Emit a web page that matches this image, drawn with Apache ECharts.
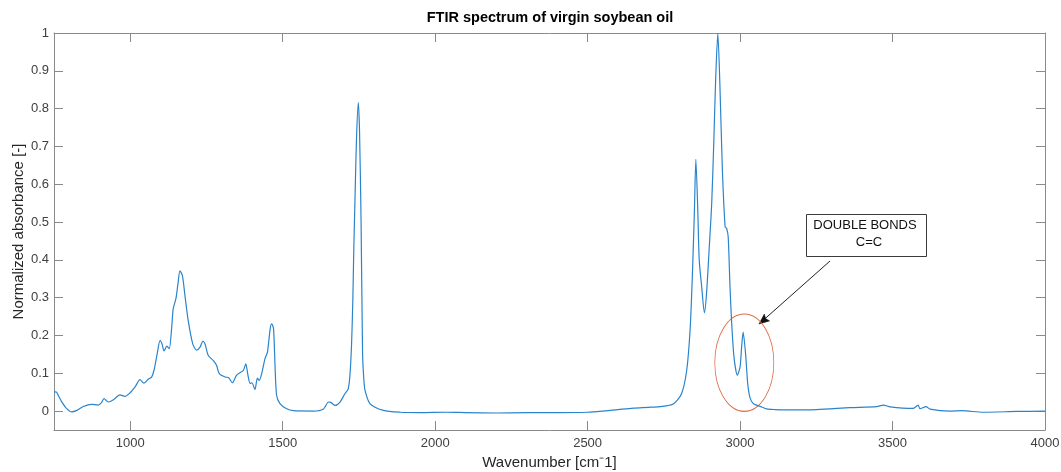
<!DOCTYPE html>
<html>
<head>
<meta charset="utf-8">
<script src="https://cdn.jsdelivr.net/npm/echarts@6/dist/echarts.min.js"></script>
<style>
html,body{margin:0;padding:0;background:#fff;}
#chart{width:1061px;height:472px;}
</style>
</head>
<body>
<div id="chart"></div>
<script>
var titleText = 'FTIR spectrum of virgin soybean oil';
var xAxisName = 'Wavenumber [cm\u207B1]';
var yAxisName = 'Normalized absorbance [-]';
var xTicks = [1000, 1500, 2000, 2500, 3000, 3500, 4000];
var yTicks = [0, 0.1, 0.2, 0.3, 0.4, 0.5, 0.6, 0.7, 0.8, 0.9, 1];
var annotationLines = ['DOUBLE BONDS', 'C=C'];

var wavenumber = [
 750,757,765,775,790,808,825,846,873,895,905,914,928,945,966,983,999,1016,1032,1045,
 1060,1070,1078,1088,1098,1104,1111,1120,1128,1136,1141,1150,1157,1163,1171,1180,1190,1205,1218,1229,
 1238,1245,1256,1272,1283,1292,1311,1322,1335,1349,1371,1379,1386,1393,1399,1409,1417,1423,1431,1442,
 1450,1459,1464,1470,1475,1480,1491,1513,1535,1600,1633,1650,1658,1672,1688,1704,1715,1721,1726,1730,
 1733,1737,1742,1748,1752,1757,1762,1766,1770,1786,1830,1885,1950,2038,2100,2200,2300,2400,2500,2550,
 2600,2650,2700,2737,2781,2808,2825,2836,2843,2850,2855,2861,2866,2874,2883,2890,2899,2907,2914,2920,
 2927,2934,2942,2951,2956,2961,2967,2972,2980,2991,3000,3005,3010,3018,3025,3032,3043,3071,3087,3115,
 3142,3251,3360,3448,3470,3492,3568,3584,3590,3610,3623,3688,3727,3798,3907,4000
];
var absorbance = [
 0.050,0.051,0.040,0.025,0.008,-0.002,0.002,0.012,0.018,0.016,0.022,0.033,0.024,0.030,0.043,0.039,0.048,0.064,0.083,0.074,
 0.085,0.090,0.108,0.150,0.187,0.178,0.159,0.172,0.165,0.222,0.271,0.298,0.340,0.371,0.359,0.302,0.240,0.178,0.161,0.169,
 0.185,0.178,0.147,0.134,0.121,0.099,0.090,0.089,0.075,0.095,0.108,0.125,0.095,0.073,0.075,0.057,0.087,0.081,0.099,0.139,
 0.156,0.218,0.231,0.218,0.117,0.042,0.020,0.006,0.001,0.000,0.005,0.024,0.023,0.015,0.024,0.046,0.059,0.100,0.180,0.293,
 0.420,0.558,0.720,0.816,0.740,0.505,0.152,0.085,0.055,0.020,0.002,-0.003,-0.004,-0.003,-0.004,-0.005,-0.004,-0.004,-0.003,0.000,
 0.004,0.008,0.010,0.012,0.019,0.046,0.108,0.214,0.346,0.523,0.666,0.540,0.400,0.330,0.260,0.311,0.434,0.550,0.717,0.880,
 1.000,0.858,0.637,0.487,0.483,0.461,0.328,0.240,0.143,0.095,0.117,0.169,0.209,0.152,0.073,0.037,0.020,0.011,0.006,0.004,
 0.003,0.004,0.009,0.012,0.016,0.011,0.007,0.016,0.006,0.012,0.005,0.000,0.001,-0.003,-0.001,0.000
];

var spectrum = wavenumber.map(function (w, i) { return [w, absorbance[i]]; });

var FONT = '"Liberation Sans", Arial, Helvetica, sans-serif';
var AXIS_COLOR = '#8a8a8a';
var LABEL_COLOR = '#404040';

var chart = echarts.init(document.getElementById('chart'), null, {renderer: 'canvas'});

function axisBase(extra) {
  return Object.assign({
    type: 'value',
    axisLine: {show: true, onZero: false, lineStyle: {color: AXIS_COLOR, width: 1}},
    splitLine: {show: false}
  }, extra);
}

var option = {
  animation: false,
  backgroundColor: '#ffffff',
  grid: {left: 54, right: 16, top: 33, bottom: 42, containLabel: false, outerBoundsMode: 'none'},
  xAxis: [
    axisBase({
      min: 750, max: 4000, position: 'bottom',
      name: xAxisName, nameLocation: 'middle', nameGap: 25,
      nameTextStyle: {fontFamily: FONT, fontSize: 15, color: '#262626'},
      axisTick: {show: true, inside: true, length: 9, customValues: xTicks, lineStyle: {color: AXIS_COLOR}},
      axisLabel: {show: true, customValues: xTicks, fontFamily: FONT, fontSize: 13, color: LABEL_COLOR, margin: 7,
        formatter: function (v) { return String(v); }}
    }),
    axisBase({
      min: 750, max: 4000, position: 'top',
      axisTick: {show: true, inside: true, length: 9, customValues: xTicks, lineStyle: {color: AXIS_COLOR}},
      axisLabel: {show: false}
    })
  ],
  yAxis: [
    axisBase({
      min: -0.05, max: 1, position: 'left',
      name: yAxisName, nameLocation: 'middle', nameGap: 28, nameMoveOverlap: false,
      nameTextStyle: {fontFamily: FONT, fontSize: 15, color: '#262626'},
      axisTick: {show: true, inside: true, length: 9, customValues: yTicks, lineStyle: {color: AXIS_COLOR}},
      axisLabel: {show: true, customValues: yTicks, fontFamily: FONT, fontSize: 13, color: LABEL_COLOR, margin: 5,
        formatter: function (v) { return String(Math.round(v * 10) / 10); }}
    }),
    axisBase({
      min: -0.05, max: 1, position: 'right',
      axisTick: {show: true, inside: true, length: 9, customValues: yTicks, lineStyle: {color: AXIS_COLOR}},
      axisLabel: {show: false}
    })
  ],
  series: [{
    type: 'line',
    xAxisIndex: 0,
    yAxisIndex: 0,
    data: spectrum,
    showSymbol: false,
    smooth: 0.25,
    lineStyle: {color: '#2a84cc', width: 1.2},
    clip: true
  }],
  graphic: [
    {type: 'text', x: 550, y: 18, style: {text: titleText, font: 'bold 14.5px ' + FONT, fill: '#000', align: 'center', verticalAlign: 'middle'}},
    {type: 'rect', shape: {x: 806.5, y: 214.5, width: 120, height: 42}, style: {fill: '#fff', stroke: '#3a3a3a', lineWidth: 1}},
    {type: 'text', x: 865, y: 225, style: {text: annotationLines[0], font: '13px ' + FONT, fill: '#111', align: 'center', verticalAlign: 'middle'}},
    {type: 'text', x: 869, y: 242, style: {text: annotationLines[1], font: '13px ' + FONT, fill: '#111', align: 'center', verticalAlign: 'middle'}},
    {type: 'line', shape: {x1: 830, y1: 261, x2: 765, y2: 318.7}, style: {stroke: '#222', lineWidth: 1}},
    {type: 'polygon', shape: {points: [[759, 324], [769.6, 320.9], [765.6, 318.5], [764.3, 314.0]]}, style: {fill: '#111', stroke: '#111', lineWidth: 0.5}},
    {type: 'circle', x: 744.3, y: 362.7, scaleX: 0.606, scaleY: 1, shape: {cx: 0, cy: 0, r: 48.7},
      style: {fill: 'none', stroke: '#DE6B43', lineWidth: 1.2, strokeNoScale: true}}
  ]
};
chart.setOption(option);
</script>
</body>
</html>
